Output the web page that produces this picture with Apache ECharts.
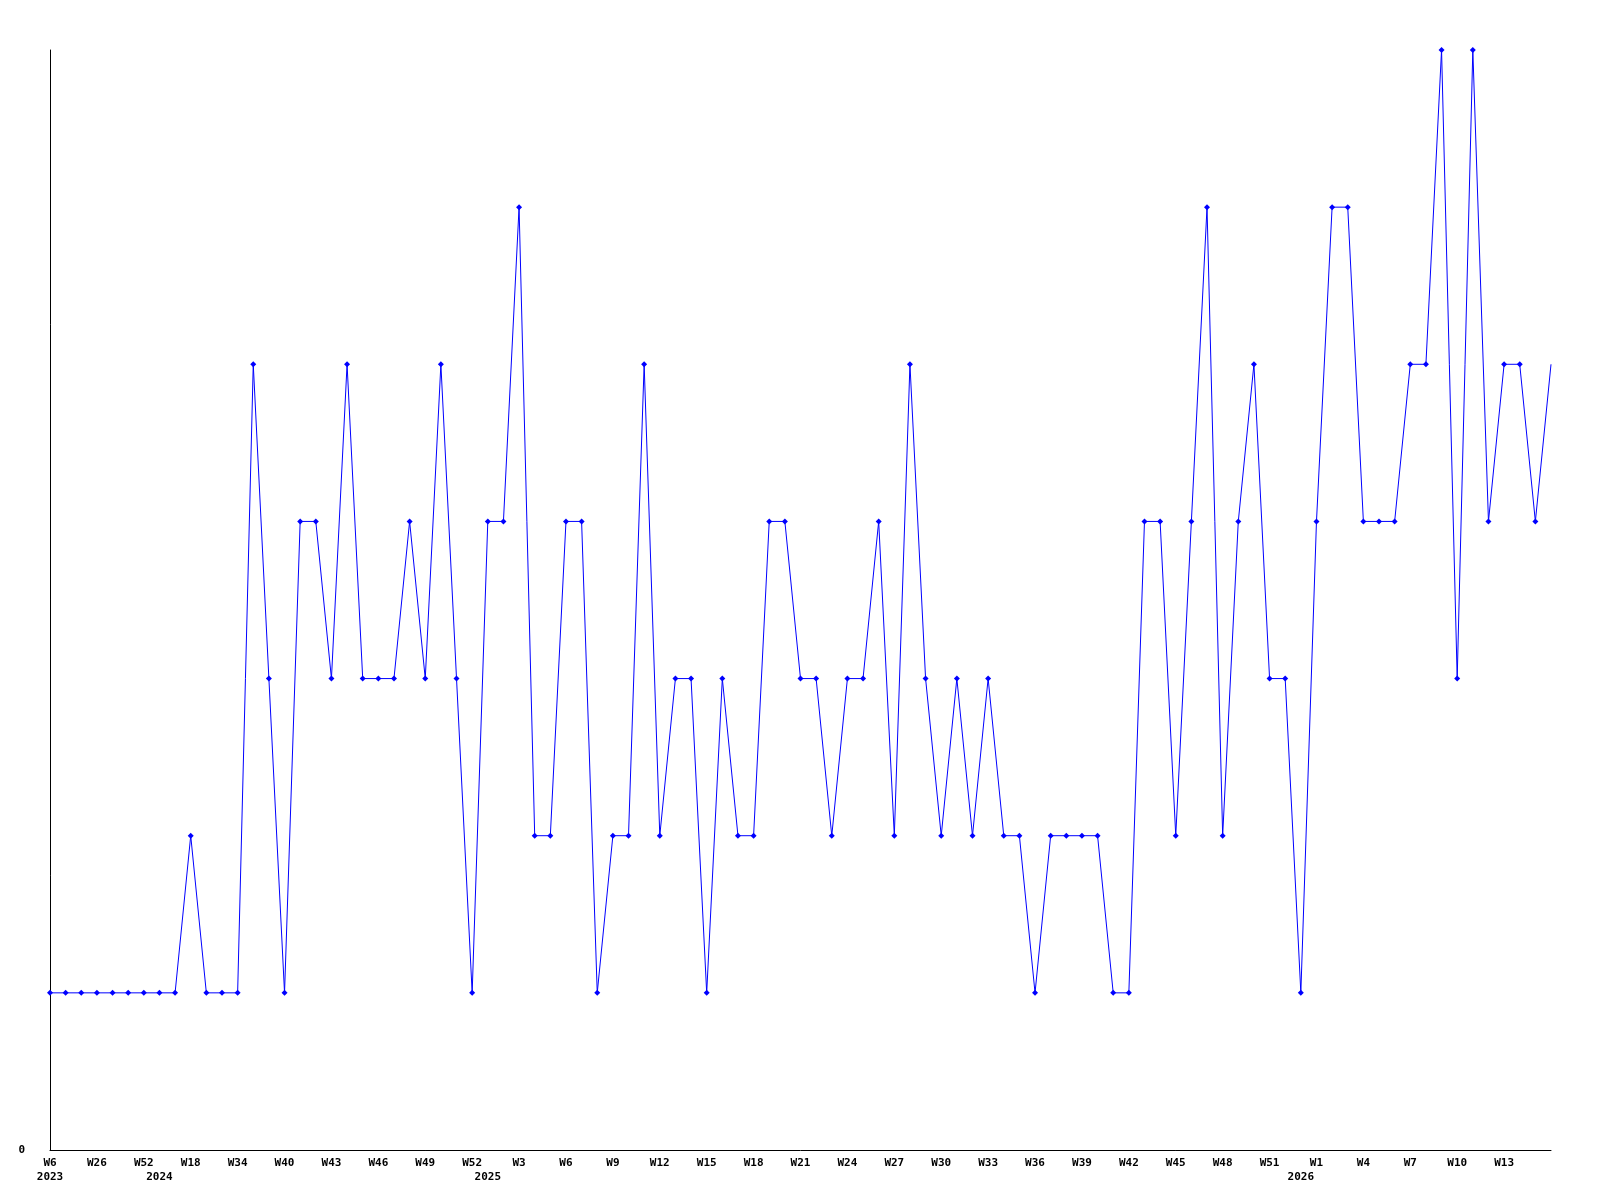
<!DOCTYPE html>
<html>
<head>
<meta charset="utf-8" />
<script src="https://cdn.jsdelivr.net/npm/echarts@6/dist/echarts.min.js"></script>
<style>
  html, body { margin: 0; padding: 0; background: #fff; }
  #main { width: 1600px; height: 1200px; }
</style>
</head>
<body>
<div id="main"></div>
<script>
// week categories (one point per category)
const weeks = [
  "W6", "W12", "W19", "W26", "W35", "W44", "W52", "W5", "W11",
  "W18", "W24", "W29", "W34", "W36", "W38",
  "W40", "W41", "W42", "W43", "W44", "W45", "W46", "W47", "W48", "W49", "W50", "W51", "W52",
  "W1", "W2", "W3", "W4", "W5", "W6", "W7", "W8", "W9", "W10", "W11", "W12",
  "W13", "W14", "W15", "W16", "W17", "W18", "W19", "W20", "W21", "W22", "W23", "W24",
  "W25", "W26", "W27", "W28", "W29", "W30", "W31", "W32", "W33", "W34", "W35", "W36",
  "W37", "W38", "W39", "W40", "W41", "W42", "W43", "W44", "W45", "W46", "W47", "W48",
  "W49", "W50", "W51", "W52", "W0",
  "W1", "W2", "W3", "W4", "W5", "W6", "W7", "W8", "W9", "W10", "W11", "W12", "W13",
  "W14", "W15", "W16"
];
// first category of each year, and the year shown there
const yearIdx = [0, 7, 28, 80];
const yearNames = ["2023", "2024", "2025", "2026"];
const counts = [
  1, 1, 1, 1, 1, 1, 1, 1, 1, 2, 1, 1, 1, 5, 3, 1,
  4, 4, 3, 5, 3, 3, 3, 4, 3, 5, 3, 1, 4, 4, 6, 2,
  2, 4, 4, 1, 2, 2, 5, 2, 3, 3, 1, 3, 2, 2, 4, 4,
  3, 3, 2, 3, 3, 4, 2, 5, 3, 2, 3, 2, 3, 2, 2, 1,
  2, 2, 2, 2, 1, 1, 4, 4, 2, 4, 6, 2, 4, 5, 3, 3,
  1, 4, 6, 6, 4, 4, 4, 5, 5, 7, 3, 7, 4, 5, 5, 4,
  5
];
const yTicks = [0, 7];

let initChart = () => {
  let element = document.getElementById("main");
  let myChart = echarts.init(element);
  let yearData = weeks.map((w, i) => {
    let k = yearIdx.indexOf(i);
    return k >= 0 ? yearNames[k] : "";
  });
  // last point sits on the clip edge, no marker there
  let seriesData = counts.map((v, i) =>
    i === counts.length - 1 ? { value: v, symbol: "none" } : v
  );
  let labelFont = {
    color: "#000",
    fontFamily: "DejaVu Sans Mono",
    fontWeight: "bold",
    fontSize: 11,
  };
  let option = {
    backgroundColor: "#fff",
    animation: false,
    grid: {
      left: 50,
      right: 49,
      top: 50,
      bottom: 50,
    },
    xAxis: [
      {
        type: "category",
        data: weeks,
        boundaryGap: false,
        axisLine: { lineStyle: { color: "#000", width: 1 } },
        axisTick: { show: false },
        axisLabel: {
          ...labelFont,
          interval: (i) => i % 3 === 0 && i < weeks.length - 1,
          margin: 8,
        },
        splitLine: { show: false },
      },
      {
        type: "category",
        data: yearData,
        position: "bottom",
        boundaryGap: false,
        axisLine: { show: false },
        axisTick: { show: false },
        axisLabel: {
          ...labelFont,
          interval: 0,
          margin: 22,
        },
        splitLine: { show: false },
      },
    ],
    yAxis: {
      type: "value",
      min: yTicks[0],
      max: yTicks[1],
      interval: yTicks[1] - yTicks[0],
      axisLine: { show: true, lineStyle: { color: "#000", width: 1 } },
      axisTick: { show: false },
      axisLabel: {
        ...labelFont,
        margin: 25,
        formatter: (v) => (v === 0 ? "0" : ""),
      },
      splitLine: { show: false },
    },
    series: [
      {
        type: "line",
        xAxisIndex: 0,
        data: seriesData,
        symbol: "diamond",
        symbolSize: 6,
        showAllSymbol: true,
        lineStyle: { color: "#0000ff", width: 1 },
        itemStyle: { color: "#0000ff" },
      },
    ],
  };
  myChart.setOption(option);
};
initChart();
</script>
</body>
</html>
